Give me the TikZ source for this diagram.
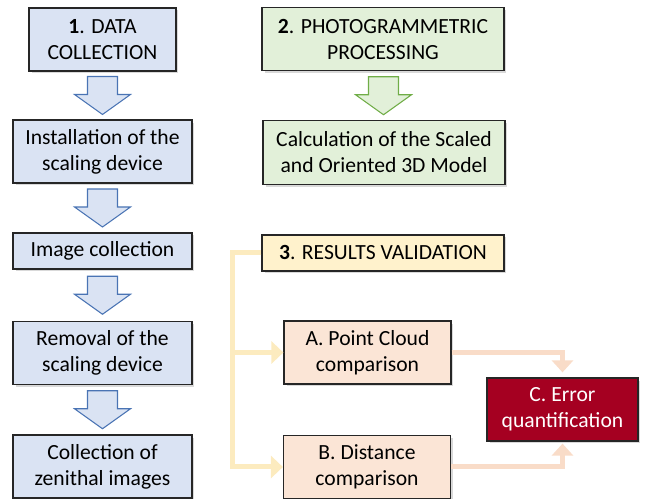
\documentclass[tikz,border=0pt]{standalone}
\usepackage{fontspec}
\setmainfont{Carlito}
\usetikzlibrary{calc,shadows,arrows.meta}

\definecolor{bluefill}{HTML}{DAE3F3}
\definecolor{blueline}{HTML}{4A74B4}
\definecolor{greenfill}{HTML}{E2F0D9}
\definecolor{greenline}{HTML}{70AD47}
\definecolor{yellowfill}{HTML}{FFF2CC}
\definecolor{yellowline}{HTML}{FCEBBF}
\definecolor{peachfill}{HTML}{FBE5D6}
\definecolor{peachline}{HTML}{F9DCC8}
\definecolor{errfill}{HTML}{A50021}
\definecolor{boxline}{HTML}{262626}

\tikzset{
  box/.style={draw=boxline, line width=0.7pt, align=center, inner sep=2pt,
    font=\fontsize{12.3}{14.8}\selectfont,
    drop shadow={shadow xshift=0.05cm, shadow yshift=-0.05cm, opacity=0.3}},
  bluebox/.style={box, fill=bluefill, minimum width=3.58cm, minimum height=1.26cm},
  greenbox/.style={box, fill=greenfill, minimum width=4.84cm, minimum height=1.27cm},
  yellowbox/.style={box, fill=yellowfill, minimum width=4.84cm, minimum height=0.72cm},
  peachbox/.style={box, fill=peachfill, minimum width=3.34cm, minimum height=1.26cm},
  errbox/.style={box, fill=errfill, text=white, minimum width=3.02cm, minimum height=1.26cm},
  bluearrow/.style={draw=blueline, fill=bluefill, line width=0.6pt, line join=miter},
  greenarrow/.style={draw=greenline, fill=greenfill, line width=0.6pt, line join=miter},
  yellowlink/.style={draw=yellowline, line width=0.1cm,
    -{Triangle[length=0.24cm,width=0.44cm]}},
  peachlink/.style={draw=peachline, line width=0.1cm,
    -{Triangle[length=0.24cm,width=0.42cm]}},
}

% hollow down arrow between two nodes
\newcommand{\blockarrow}[3]{%
  \path ($(#1.south)!0.5!(#2.north)$) coordinate (m);
  \draw[#3] (m) ++(-15,-19) -- ++(30,0) -- ++(0,18) -- ++(13,0)
    -- ++(-28,20) -- ++(-28,-20) -- ++(13,0) -- cycle;
}

\begin{document}
\begin{tikzpicture}[x=0.02cm, y=-0.02cm]
  \useasboundingbox (0,0) rectangle (646,499);

  % 1. data collection
  \node[bluebox, minimum width=2.94cm] (dc) at (102.5,39.5) {\textbf{1}. DATA\\COLLECTION};
  \node[bluebox] (inst) at (102.5,151.5) {Installation of the\\scaling device};
  \node[bluebox, minimum height=0.72cm] (img) at (102.5,251) {Image collection};
  \node[bluebox] (rem) at (102.5,353) {Removal of the\\scaling device};
  \node[bluebox] (zen) at (102.5,466.5) {Collection of\\zenithal images};

  \blockarrow{dc}{inst}{bluearrow}
  \blockarrow{inst}{img}{bluearrow}
  \blockarrow{img}{rem}{bluearrow}
  \blockarrow{rem}{zen}{bluearrow}

  % 2. processing
  \node[greenbox] (pp) at (383,39) {\textbf{2}. PHOTOGRAMMETRIC\\PROCESSING};
  \node[greenbox] (calc) at (384,152.5) {Calculation of the Scaled\\and Oriented 3D Model};

  \blockarrow{pp}{calc}{greenarrow}

  % 3. validation
  \node[yellowbox] (rv) at (383,253) {\textbf{3}. RESULTS VALIDATION};
  \node[peachbox] (pa) at (367.5,352.5) {A. Point Cloud\\comparison};
  \node[peachbox] (pb) at (367,467) {B. Distance\\comparison};
  \node[errbox] (err) at (562.5,409.5) {C. Error\\quantification};

  \coordinate (bx) at (232,0);
  \draw[yellowlink] (rv.west) -| (bx |- pb.west) -- (pb.west);
  \draw[yellowlink] (bx |- pa.west) -- (pa.west);

  \draw[peachlink, shorten >=0.1cm] (pa.east) -| (err.north);
  \draw[peachlink, shorten >=0.04cm] (pb.east) -| (err.south);
\end{tikzpicture}
\end{document}
